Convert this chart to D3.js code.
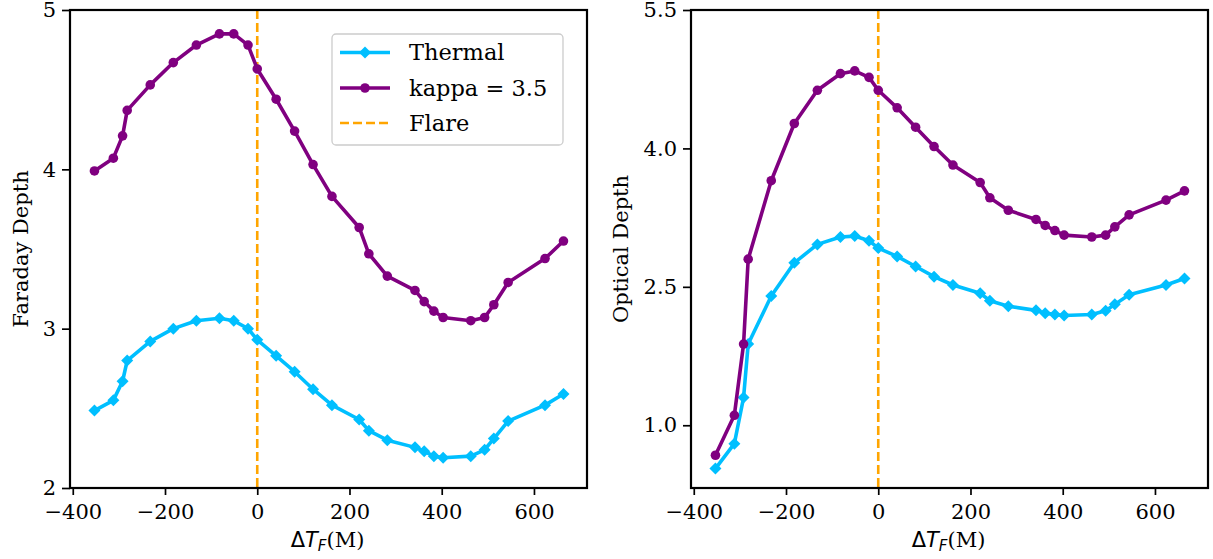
<!DOCTYPE html>
<html><head><meta charset="utf-8">
<script src="https://cdn.jsdelivr.net/npm/d3@7"></script>
<style>body{margin:0;background:#fff}svg{display:block}text{font-family:"DejaVu Serif",serif;fill:#000}</style>
</head><body><svg id="c" width="1213" height="559"></svg>
<script>
const times = [-353,-312,-292,-282,-232,-182,-132,-82,-51,-20,0,41,81,121,162,221,242,282,342,362,383,403,463,493,513,544,624,664];
const faradayThermal = [2.486,2.55,2.67,2.80,2.92,3.00,3.05,3.065,3.05,3.00,2.93,2.83,2.73,2.62,2.52,2.43,2.36,2.30,2.255,2.23,2.20,2.19,2.20,2.24,2.31,2.42,2.52,2.59];
const faradayKappa = [3.99,4.07,4.21,4.37,4.53,4.67,4.78,4.85,4.85,4.78,4.63,4.44,4.24,4.03,3.83,3.635,3.47,3.33,3.24,3.17,3.11,3.07,3.05,3.07,3.15,3.29,3.44,3.55];
const opticalThermal = [0.53,0.80,1.30,1.88,2.40,2.76,2.96,3.04,3.05,3.00,2.92,2.83,2.72,2.61,2.52,2.43,2.35,2.29,2.245,2.215,2.20,2.19,2.20,2.24,2.31,2.415,2.52,2.59];
const opticalKappa = [0.675,1.108,1.88,2.80,3.65,4.27,4.63,4.81,4.84,4.77,4.63,4.44,4.23,4.02,3.82,3.63,3.465,3.33,3.23,3.165,3.11,3.06,3.04,3.06,3.15,3.28,3.44,3.54];
const xTicks = [-400,-200,0,200,400,600];
const faradayTicks = [2,3,4,5];
const opticalTicks = [1.0,2.5,4.0,5.5];
const flareTime = 0;
const seriesNames = ["Thermal","kappa = 3.5","Flare"];
const colors = {thermal:"#00BFFF", kappa:"#800080", flare:"#FFA500"};

const FS = 21;
const svg = d3.select("#c");

function panel(opts){
  const g = svg.append("g");
  const x = d3.scaleLinear().domain([-406,715]).range([opts.left, opts.right]);
  const y = d3.scaleLinear().domain(opts.ydom).range([488, 10]);
  g.append("line").attr("x1",x(flareTime)).attr("x2",x(flareTime)).attr("y1",y.range()[1]).attr("y2",y.range()[0])
    .attr("stroke",colors.flare).attr("stroke-width",2.6).attr("stroke-dasharray","9,4");
  const line = d3.line().x((d,i)=>x(times[i])).y(d=>y(d));
  g.append("path").datum(opts.thermal).attr("d",line).attr("fill","none").attr("stroke",colors.thermal).attr("stroke-width",3.6).attr("stroke-linejoin","round");
  const dsym = d3.symbol().type(d3.symbolSquare).size(72);
  g.selectAll(".dm").data(opts.thermal).join("path").attr("d",dsym)
    .attr("transform",(d,i)=>`translate(${x(times[i])},${y(d)}) rotate(45)`).attr("fill",colors.thermal);
  g.append("path").datum(opts.kappa).attr("d",line).attr("fill","none").attr("stroke",colors.kappa).attr("stroke-width",3.6).attr("stroke-linejoin","round");
  g.selectAll(".ck").data(opts.kappa).join("circle").attr("cx",(d,i)=>x(times[i])).attr("cy",d=>y(d)).attr("r",4.8).attr("fill",colors.kappa);
  const xa = g.append("g").attr("transform","translate(0,488)")
    .call(d3.axisBottom(x).tickValues(xTicks).tickSize(7).tickPadding(9).tickFormat(d=>d<0?"\u2212"+Math.abs(d):d));
  const ya = g.append("g").attr("transform",`translate(${opts.left},0)`)
    .call(d3.axisLeft(y).tickValues(opts.yticks).tickSize(8).tickPadding(6).tickFormat(opts.yfmt));
  [xa,ya].forEach(a=>{a.select(".domain").remove();a.selectAll("line").attr("stroke","#000").attr("stroke-width",1.7);
    a.selectAll("text").attr("font-family","DejaVu Serif").attr("font-size",FS).attr("fill","#000");});
  g.append("rect").attr("x",opts.left).attr("y",10).attr("width",opts.right-opts.left).attr("height",478)
    .attr("fill","none").attr("stroke","#000").attr("stroke-width",2.2);
  const xl = g.append("text").attr("x",(opts.left+opts.right)/2 - 1).attr("y",547).attr("text-anchor","middle").attr("font-size",FS);
  xl.append("tspan").attr("font-family","DejaVu Sans").text("\u0394");
  xl.append("tspan").attr("font-family","DejaVu Sans").attr("font-style","italic").text("T");
  xl.append("tspan").attr("font-family","DejaVu Sans").attr("font-style","italic").attr("font-size",15).attr("dy",4).text("F");
  xl.append("tspan").attr("dy",-4).text("(M)");
  g.append("text").attr("transform",`translate(${opts.ylabx},249) rotate(-90)`).attr("text-anchor","middle").attr("font-size",FS).text(opts.ylabel);
  return {x,y};
}

panel({left:70,right:587,ydom:[2,5],yticks:faradayTicks,yfmt:d3.format("d"),thermal:faradayThermal,kappa:faradayKappa,ylabel:"Faraday Depth",ylabx:28});
panel({left:691,right:1208,ydom:[0.32,5.5],yticks:opticalTicks,yfmt:d3.format(".1f"),thermal:opticalThermal,kappa:opticalKappa,ylabel:"Optical Depth",ylabx:628});

const lg = svg.append("g");
lg.append("rect").attr("x",332).attr("y",34).attr("width",231).attr("height",111).attr("rx",4)
  .attr("fill","#fff").attr("fill-opacity",0.8).attr("stroke","#ccc").attr("stroke-width",1.3);
const rows = [52.5,88,123];
const keys = ["thermal","kappa","flare"];
keys.forEach((k,i)=>{
  const yy = rows[i];
  const ln = lg.append("line").attr("x1",340).attr("x2",390).attr("y1",yy).attr("y2",yy).attr("stroke",colors[k]).attr("stroke-width",k==="flare"?2.6:3.6);
  if(k==="flare") ln.attr("stroke-dasharray","9,4");
  if(k==="thermal") lg.append("path").attr("d",d3.symbol().type(d3.symbolSquare).size(72)).attr("transform",`translate(365,${yy}) rotate(45)`).attr("fill",colors[k]);
  if(k==="kappa") lg.append("circle").attr("cx",365).attr("cy",yy).attr("r",4.8).attr("fill",colors[k]);
  lg.append("text").attr("x",409).attr("y",yy).attr("dy","0.35em").attr("font-size",22.5).text(seriesNames[i]);
});
</script></body></html>
